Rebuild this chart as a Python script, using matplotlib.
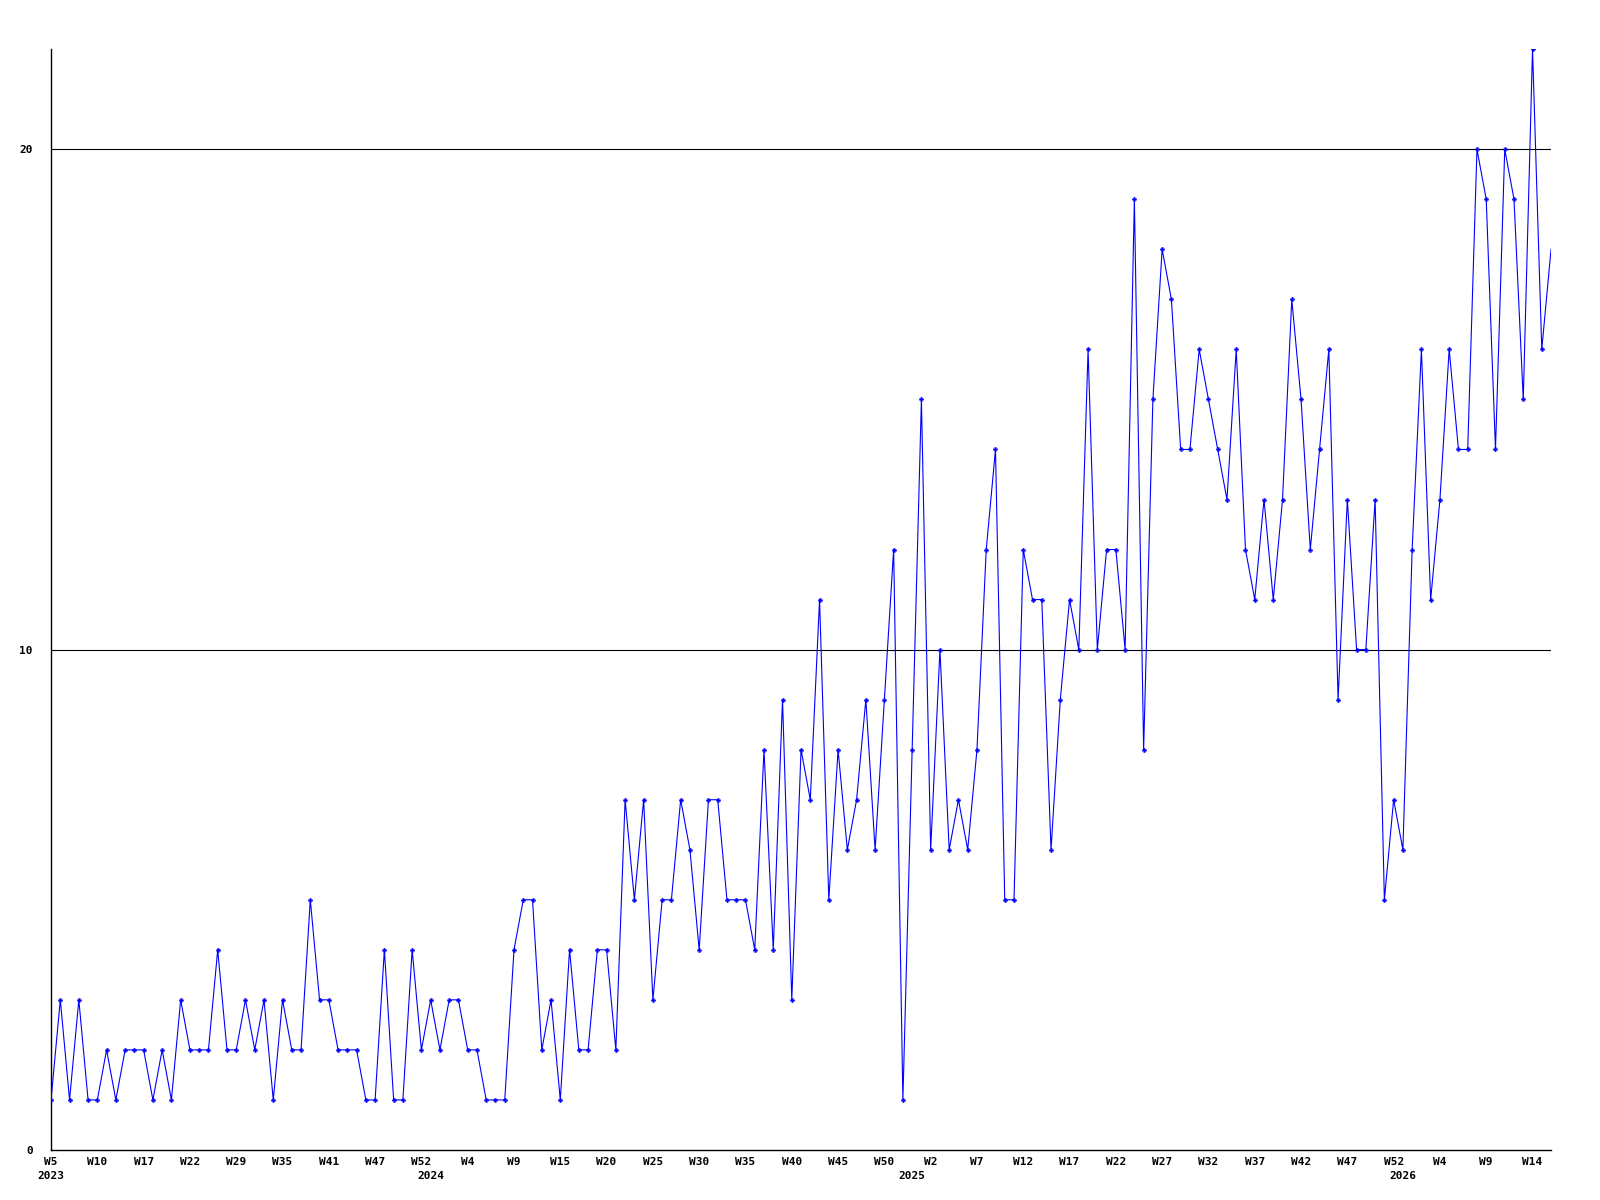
import matplotlib
matplotlib.use("Agg")
import matplotlib.pyplot as plt
import matplotlib.transforms as mtransforms

# ---- data ----
weeks_2023 = [5, 6, 7, 8, 9, 10, 11, 13, 15, 16, 17, 18, 19, 20, 21, 22, 23, 25, 26, 28,
              29, 30, 32, 33, 34, 35, 36, 37, 39, 40, 41, 42, 43, 45, 46, 47, 48, 49, 50, 51, 52]
weeks_2024 = [0, 1, 2, 3, 4, 5, 6, 7, 8, 9, 10, 11, 13, 14, 15, 16, 17, 18, 19, 20, 21, 22,
              23, 24, 25, 26, 27, 28, 29, 30, 31, 32, 33, 34, 35, 36, 37, 38, 39, 40, 41, 42,
              43, 44, 45, 46, 47, 48, 49, 50, 51, 52]
weeks_2025 = [0, 1, 2, 3, 4, 5, 6, 7, 8, 9, 10, 11, 12, 13, 14, 15, 16, 17, 18, 19, 20, 21,
              22, 23, 24, 25, 26, 27, 28, 29, 30, 31, 32, 33, 34, 35, 36, 37, 38, 39, 40, 41,
              42, 43, 44, 45, 46, 47, 48, 49, 50, 51, 52]
weeks_2026 = [0, 1, 2, 3, 4, 5, 6, 7, 8, 9, 10, 11, 12, 13, 14, 15, 16]
years = [2023, 2024, 2025, 2026]

values = [
    1, 3, 1, 3, 1, 1, 2, 1, 2, 2, 2, 1, 2, 1, 3, 2, 2, 2, 4, 2, 2, 3, 2, 3, 1, 3, 2, 2, 5, 3, 3,
    2, 2, 2, 1, 1, 4, 1, 1, 4, 2, 3, 2, 3, 3, 2, 2, 1, 1, 1, 4, 5, 5, 2, 3, 1, 4, 2, 2, 4, 4, 2, 7, 5,
    7, 3, 5, 5, 7, 6, 4, 7, 7, 5, 5, 5, 4, 8, 4, 9, 3, 8, 7, 11, 5, 8, 6, 7, 9, 6, 9, 12, 1, 8,
    15, 6, 10, 6, 7, 6, 8, 12, 14, 5, 5, 12, 11, 11, 6, 9, 11, 10, 16, 10, 12, 12, 10, 19, 8, 15,
    18, 17, 14, 14, 16, 15, 14, 13, 16, 12, 11, 13, 11, 13, 17, 15, 12, 14, 16, 9, 13, 10, 10, 13,
    5, 7, 6, 12, 16, 11, 13, 16, 14, 14, 20, 19, 14, 20, 19, 15, 22, 16, 18,
]

# ---- build categories ----
all_weeks = weeks_2023 + weeks_2024 + weeks_2025 + weeks_2026
year_start = []
pos = 0
for yr, wk in zip(years, [weeks_2023, weeks_2024, weeks_2025, weeks_2026]):
    year_start.append((pos, str(yr)))
    pos += len(wk)
labels = ["W%d" % w for w in all_weeks]
x = list(range(len(values)))

mono = "DejaVu Sans Mono"
fig = plt.figure(figsize=(16, 12), dpi=100)
ax = fig.add_axes([0.0319, 0.0417, 0.9375, 0.9173])

for yv in (10, 20):
    ax.axhline(yv, color="black", lw=0.8, zorder=1)

ax.plot(x, values, color="#0000ff", lw=0.8, zorder=3)
ax.plot(x[:-1], values[:-1], linestyle="none", marker="P", ms=3.2,
        markerfacecolor="#0000ff", markeredgecolor="#0000ff", markeredgewidth=0.2, zorder=4)

ax.set_xlim(0, len(values) - 1)
ax.set_ylim(0, 22)

for s in ("top", "right"):
    ax.spines[s].set_visible(False)
for s in ("left", "bottom"):
    ax.spines[s].set_color("black")
    ax.spines[s].set_linewidth(1.0)

ax.set_yticks([0, 10, 20])
ax.set_yticklabels(["0", "10", "20"], fontfamily=mono, fontweight="bold", fontsize=8)
ax.tick_params(axis="y", length=0, pad=13)

tick_idx = x[::5]
ax.set_xticks(tick_idx)
ax.set_xticklabels([labels[i] for i in tick_idx], fontfamily=mono, fontweight="bold", fontsize=8)
ax.tick_params(axis="x", length=0, pad=5)

trans = mtransforms.blended_transform_factory(ax.transData, ax.transAxes)
for i, yr in year_start:
    ax.annotate(yr, xy=(i, 0), xycoords=trans, xytext=(0, -15), textcoords="offset points",
                ha="center", va="top", fontfamily=mono, fontweight="bold", fontsize=8)

fig.savefig("out.png", dpi=100, facecolor="white")
